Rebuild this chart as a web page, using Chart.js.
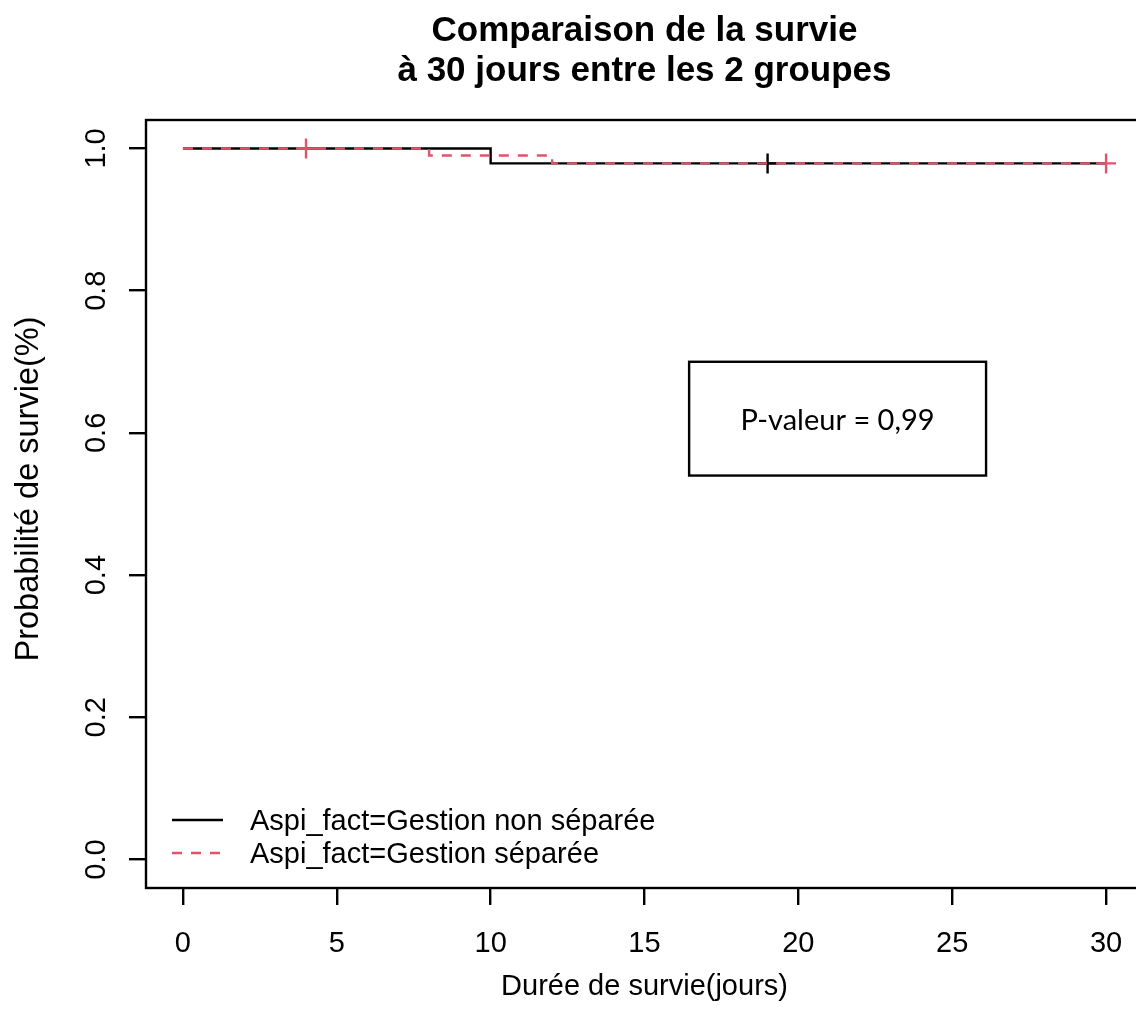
<!DOCTYPE html>
<html>
<head>
<meta charset="utf-8">
<script src="https://cdn.jsdelivr.net/npm/chart.js@4/dist/chart.umd.min.js"></script>
<style>
  html, body { margin: 0; padding: 0; background: #fff; overflow: hidden; }
  #wrap { width: 1136px; height: 1028px; overflow: hidden; }
</style>
</head>
<body>
<div id="wrap"><canvas id="c" width="1160" height="1028"></canvas></div>
<script>
// Kaplan-Meier survival at 30 days, two groups
const titleLines = ['Comparaison de la survie', 'à 30 jours entre les 2 groupes'];
const xTitle = 'Durée de survie(jours)';
const yTitle = 'Probabilité de survie(%)';
const xTicks = [0, 5, 10, 15, 20, 25, 30];
const yTicks = [0.0, 0.2, 0.4, 0.6, 0.8, 1.0];
const groupNames = ['Aspi_fact=Gestion non séparée', 'Aspi_fact=Gestion séparée'];

// "Gestion non séparée": step times and survival
const timesNonSep = [0, 10, 30];
const survNonSep = [1.0, 0.979, 0.979];
const censorTimesNonSep = [19];
const censorSurvNonSep = [0.979];

// "Gestion séparée": step times and survival
const timesSep = [0, 8, 12, 30];
const survSep = [1.0, 0.99, 0.979, 0.979];
const censorTimesSep = [4, 30];
const censorSurvSep = [1.0, 0.979];

const pValueLabel = 'P-valeur = 0,99';

const pts = (xs, ys) => xs.map((t, i) => ({ x: t, y: ys[i] }));

const RED = '#DF536B';
const LW = 2.4;
const FONT = '"Liberation Sans", Arial, Helvetica, sans-serif';

// p-value box corners, in axis units
const pBoxCorners = { x0: 16.45, x1: 26.1, y0: 0.54, y1: 0.70 };

const baseDecor = {
  id: 'baseDecor',
  afterDraw(chart) {
    const { ctx, chartArea: a, scales: { x, y } } = chart;
    ctx.save();
    ctx.strokeStyle = '#000';
    ctx.fillStyle = '#000';
    ctx.lineWidth = LW;
    // plot frame
    ctx.strokeRect(a.left, a.top, a.right - a.left, a.bottom - a.top);

    const cx = (a.left + a.right) / 2;
    // title
    ctx.textAlign = 'center';
    ctx.textBaseline = 'alphabetic';
    ctx.font = 'bold 35px ' + FONT;
    ctx.fillText(titleLines[0], cx, 41);
    ctx.fillText(titleLines[1], cx, 81);

    // x tick labels and title
    ctx.font = '29px ' + FONT;
    xTicks.forEach(v => ctx.fillText(String(v), x.getPixelForValue(v), 952));
    ctx.fillText(xTitle, cx, 995);

    // y tick labels, rotated
    yTicks.forEach(v => {
      ctx.save();
      ctx.translate(105, y.getPixelForValue(v));
      ctx.rotate(-Math.PI / 2);
      ctx.fillText(v.toFixed(1), 0, 0);
      ctx.restore();
    });
    ctx.save();
    ctx.font = '32.5px ' + FONT;
    ctx.translate(38, 489);
    ctx.rotate(-Math.PI / 2);
    ctx.fillText(yTitle, 0, 0);
    ctx.restore();

    // legend
    ctx.textAlign = 'left';
    ctx.beginPath();
    ctx.moveTo(172, 820); ctx.lineTo(223, 820);
    ctx.stroke();
    ctx.save();
    ctx.strokeStyle = RED;
    ctx.setLineDash([10, 9]);
    ctx.beginPath();
    ctx.moveTo(172, 853); ctx.lineTo(225, 853);
    ctx.stroke();
    ctx.restore();
    ctx.fillText(groupNames[0], 250, 830);
    ctx.fillText(groupNames[1], 250, 863);

    // p-value box
    const bx0 = x.getPixelForValue(pBoxCorners.x0), bx1 = x.getPixelForValue(pBoxCorners.x1);
    const by0 = y.getPixelForValue(pBoxCorners.y1), by1 = y.getPixelForValue(pBoxCorners.y0);
    ctx.strokeRect(bx0, by0, bx1 - bx0, by1 - by0);
    ctx.textAlign = 'center';
    ctx.textBaseline = 'alphabetic';
    ctx.font = '28px Lato, "Open Sans", sans-serif';
    ctx.save();
    ctx.translate((bx0 + bx1) / 2, 430);
    ctx.scale(1.035, 1);
    ctx.fillText(pValueLabel, 0, 0);
    ctx.restore();
    ctx.restore();
  }
};

const axisGrid = {
  display: true,
  drawOnChartArea: false,
  drawTicks: true,
  tickLength: 17,
  color: '#000',
  tickColor: '#000',
  tickWidth: LW,
  lineWidth: LW
};

new Chart(document.getElementById('c'), {
  type: 'line',
  data: {
    datasets: [
      {
        label: groupNames[1] + ' (censure)',
        data: pts(censorTimesSep, censorSurvSep),
        showLine: false,
        pointStyle: 'cross',
        pointRadius: 10,
        pointBorderColor: RED,
        pointBorderWidth: LW,
        borderColor: RED,
        order: 0
      },
      {
        label: groupNames[1],
        data: pts(timesSep, survSep),
        stepped: 'before',
        borderColor: RED,
        borderWidth: LW,
        borderDash: [10, 9],
        pointRadius: 0,
        fill: false,
        order: 1
      },
      {
        label: groupNames[0] + ' (censure)',
        data: pts(censorTimesNonSep, censorSurvNonSep),
        showLine: false,
        pointStyle: 'cross',
        pointRadius: 10,
        pointBorderColor: '#000',
        pointBorderWidth: LW,
        borderColor: '#000',
        order: 2
      },
      {
        label: groupNames[0],
        data: pts(timesNonSep, survNonSep),
        stepped: 'before',
        borderColor: '#000',
        borderWidth: LW,
        pointRadius: 0,
        fill: false,
        order: 3
      }
    ]
  },
  options: {
    responsive: false,
    animation: false,
    events: [],
    layout: { padding: { left: 0, right: 17, top: 120, bottom: 0 } },
    plugins: {
      legend: { display: false },
      tooltip: { enabled: false },
      title: { display: false }
    },
    scales: {
      x: {
        type: 'linear',
        min: -1.2,
        max: 31.2,
        afterBuildTicks: s => { s.ticks = xTicks.map(v => ({ value: v })); },
        afterFit: s => { s.height = 140; },
        ticks: { display: false },
        grid: axisGrid,
        border: { display: false }
      },
      y: {
        type: 'linear',
        min: -0.04,
        max: 1.04,
        afterBuildTicks: s => { s.ticks = yTicks.map(v => ({ value: v })); },
        afterFit: s => { s.width = 146; },
        ticks: { display: false },
        grid: axisGrid,
        border: { display: false }
      }
    }
  },
  plugins: [baseDecor]
});
</script>
</body>
</html>
